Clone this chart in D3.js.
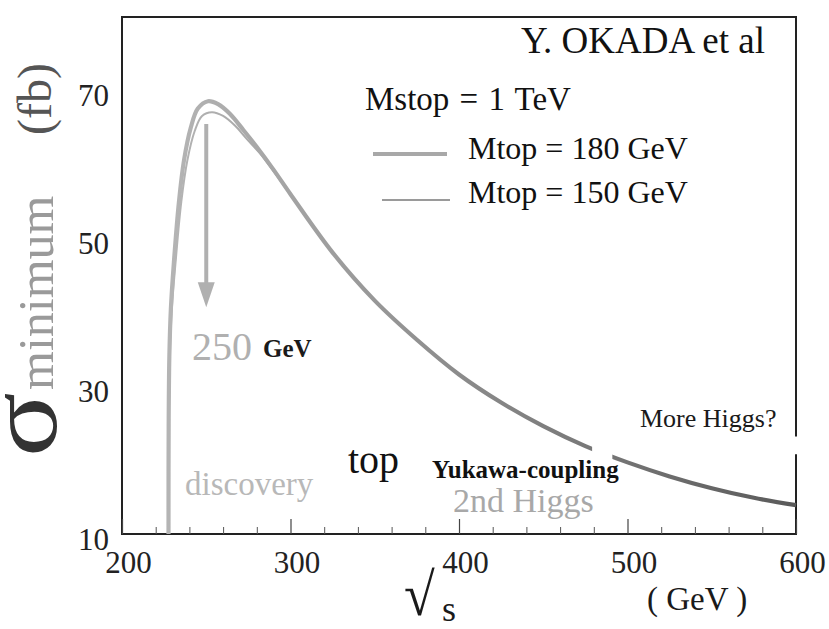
<!DOCTYPE html>
<html>
<head>
<meta charset="utf-8">
<script src="https://cdn.jsdelivr.net/npm/d3@7"></script>
<style>
  html, body { margin: 0; padding: 0; background: #fff; }
  svg { display: block; }
  text { font-family: "Liberation Serif", "DejaVu Serif", serif; }
</style>
</head>
<body>
<svg id="chart" width="829" height="629"></svg>
<script>
// sqrt(s) in GeV and minimum cross section in fb, Mstop = 1 TeV
const sqrtS180 = [227.6, 227.7, 228.1, 229.0, 230.8, 233.8, 236.8, 240.8, 245.0, 251.0, 257.0, 264.0, 272.0, 280.0, 290.0, 300.0, 325.0, 350.0, 375.0, 400.0, 425.0, 450.0, 475.0, 500.0, 525.0, 550.0, 575.0, 600.0];
const sigma180 = [10.0, 25.0, 34.0, 40.5, 46.8, 55.0, 60.6, 65.0, 67.6, 68.6, 68.2, 66.9, 64.7, 62.4, 59.3, 56.0, 48.1, 41.6, 36.3, 31.6, 27.8, 24.6, 21.9, 19.7, 17.8, 16.2, 14.9, 13.9];

const sqrtS150 = [227.6, 227.8, 228.4, 229.6, 231.8, 235.2, 238.8, 243.2, 247.5, 253.4, 260.0, 267.0, 274.0, 282.0, 290.0, 300.0, 325.0, 350.0, 375.0, 400.0, 425.0, 450.0, 475.0, 500.0, 525.0, 550.0, 575.0, 600.0];
const sigma150 = [10.0, 25.0, 34.0, 40.5, 46.8, 55.0, 60.6, 64.6, 66.6, 67.1, 66.6, 65.3, 63.5, 61.5, 59.1, 56.0, 48.1, 41.6, 36.3, 31.6, 27.8, 24.6, 21.9, 19.7, 17.8, 16.2, 14.9, 13.9];

// axis ticks
const xTicks = [200, 300, 400, 500, 600];
const xMinorTicks = [220, 240, 260, 280, 320, 340, 360, 380, 420, 440, 460, 480, 520, 540, 560, 580];
const yTicks = [10, 30, 50, 70];

// peak marker: arrow at sqrt(s) = 250 GeV
const peakEnergy = 250;
const arrowFrom = 65.5;
const arrowTo = 40.7;

const svg = d3.select("#chart");

const x = d3.scaleLinear().domain([200, 600]).range([122, 796]);
const y = d3.scaleLinear().domain([10, 80]).range([534, 17]);

// curve shading: pale near threshold, darker toward high energy
const defs = svg.append("defs");
const grad = defs.append("linearGradient")
  .attr("id", "curveShade")
  .attr("gradientUnits", "userSpaceOnUse")
  .attr("x1", x(230)).attr("y1", 0)
  .attr("x2", x(600)).attr("y2", 0);
grad.append("stop").attr("offset", 0).attr("stop-color", "#b4b4b4");
grad.append("stop").attr("offset", 0.35).attr("stop-color", "#959595");
grad.append("stop").attr("offset", 1).attr("stop-color", "#5a5a5a");

// frame
svg.append("rect")
  .attr("x", x(200)).attr("y", y(80))
  .attr("width", x(600) - x(200)).attr("height", y(10) - y(80))
  .attr("fill", "none").attr("stroke", "#222").attr("stroke-width", 2);

// bottom axis: major ticks with labels, minor ticks pointing inward
const xAxis = svg.append("g")
  .attr("transform", `translate(0,${y(10)})`)
  .call(d3.axisBottom(x).tickValues(xTicks).tickSize(-15).tickPadding(17).tickSizeOuter(0));
xAxis.select(".domain").remove();
xAxis.selectAll(".tick line").attr("stroke", "#444").attr("stroke-width", 1.2);
xAxis.selectAll(".tick text")
  .attr("font-family", "Liberation Serif, serif")
  .attr("font-size", 31).attr("fill", "#222").attr("dx", 6);

const xMinor = svg.append("g")
  .attr("transform", `translate(0,${y(10)})`)
  .call(d3.axisBottom(x).tickValues(xMinorTicks).tickSize(-7).tickFormat(""));
xMinor.select(".domain").remove();
xMinor.selectAll(".tick line").attr("stroke", "#555").attr("stroke-width", 1);

// left axis labels only
const yAxis = svg.append("g")
  .attr("transform", `translate(${x(200)},0)`)
  .call(d3.axisLeft(y).tickValues(yTicks).tickSize(0).tickPadding(13));
yAxis.select(".domain").remove();
yAxis.selectAll(".tick text")
  .attr("font-family", "Liberation Serif, serif")
  .attr("font-size", 31).attr("fill", "#222").attr("dy", 15);

// cross-section curves
const line = d3.line()
  .x(d => x(d[0]))
  .y(d => y(d[1]))
  .curve(d3.curveCatmullRom.alpha(0.5));

const data180 = sqrtS180.map((s, i) => [s, sigma180[i]]);
const data150 = sqrtS150.map((s, i) => [s, sigma150[i]]);

svg.append("path").datum(data180)
  .attr("d", line).attr("fill", "none")
  .attr("stroke", "url(#curveShade)").attr("stroke-width", 4.2)
  .attr("stroke-linejoin", "round");
svg.append("path").datum(data150)
  .attr("d", line).attr("fill", "none")
  .attr("stroke", "url(#curveShade)").attr("stroke-width", 2)
  .attr("stroke-linejoin", "round");

// paste-up breaks in the curve and the right frame
svg.append("rect")
  .attr("x", x(479)).attr("width", x(491) - x(479))
  .attr("y", y(23.5)).attr("height", y(18.5) - y(23.5))
  .attr("fill", "#fff");
svg.append("rect")
  .attr("x", x(600) - 3).attr("width", 6)
  .attr("y", y(23.2)).attr("height", y(20.8) - y(23.2))
  .attr("fill", "#fff");

// arrow marking the peak energy
const ax = x(peakEnergy);
svg.append("line")
  .attr("x1", ax).attr("x2", ax)
  .attr("y1", y(arrowFrom)).attr("y2", y(arrowTo) - 20)
  .attr("stroke", "#b0b0b0").attr("stroke-width", 4);
svg.append("path")
  .attr("d", `M${ax - 8.5},${y(arrowTo) - 25} L${ax + 8.5},${y(arrowTo) - 25} L${ax},${y(arrowTo)} Z`)
  .attr("fill", "#b0b0b0");

// annotations
function label(txt, px, py, opts) {
  const t = svg.append("text")
    .attr("x", px).attr("y", py)
    .attr("font-size", opts.size)
    .attr("fill", opts.fill || "#111")
    .attr("text-anchor", opts.anchor || "start")
    .text(txt);
  if (opts.weight) t.attr("font-weight", opts.weight);
  if (opts.wordSpacing) t.attr("word-spacing", opts.wordSpacing);
  return t;
}

label("Y. OKADA et al", 765, 53, { size: 37, anchor: "end" });
label("Mstop = 1 TeV", 365, 110, { size: 33, wordSpacing: 2 });
label("Mtop = 180 GeV", 468, 159, { size: 32 });
label("Mtop = 150 GeV", 468, 203, { size: 32 });

// legend swatches
svg.append("line").attr("x1", 373).attr("x2", 447).attr("y1", 154).attr("y2", 154)
  .attr("stroke", "#a8a8a8").attr("stroke-width", 4.2);
svg.append("line").attr("x1", 382).attr("x2", 450).attr("y1", 200).attr("y2", 200)
  .attr("stroke", "#9a9a9a").attr("stroke-width", 2);

label(String(peakEnergy), 192, 360, { size: 40, fill: "#b0b0b0" });
label("GeV", 263, 357, { size: 25, fill: "#1a1a1a", weight: "bold" });
label("discovery", 185, 495, { size: 33, fill: "#b8b8b8" });
label("top", 348, 473, { size: 40, fill: "#111" });
label("Yukawa-coupling", 432, 478, { size: 25, fill: "#111", weight: "bold" });
label("2nd Higgs", 453, 512, { size: 34, fill: "#a8a8a8" });
label("More Higgs?", 640, 427, { size: 26, fill: "#1a1a1a" });

// axis titles
svg.append("text")
  .attr("transform", "translate(404,615) scale(1.4,1.5)")
  .attr("font-size", 40).attr("fill", "#1a1a1a")
  .text("\u221A");
label("s", 442, 621, { size: 36, fill: "#1a1a1a" });
label("( GeV )", 647, 610, { size: 33, fill: "#1a1a1a" });

const yTitle = svg.append("g");
yTitle.append("text")
  .attr("transform", "translate(56,457) rotate(-90) scale(1.2,1)")
  .attr("font-size", 100).attr("fill", "#333")
  .text("\u03C3");
yTitle.append("text")
  .attr("transform", "translate(53,390) rotate(-90)")
  .attr("font-size", 50).attr("fill", "#9a9a9a")
  .text("minimum");
yTitle.append("text")
  .attr("transform", "translate(51,135) rotate(-90)")
  .attr("font-size", 48).attr("fill", "#555")
  .text("(fb)");
</script>
</body>
</html>
